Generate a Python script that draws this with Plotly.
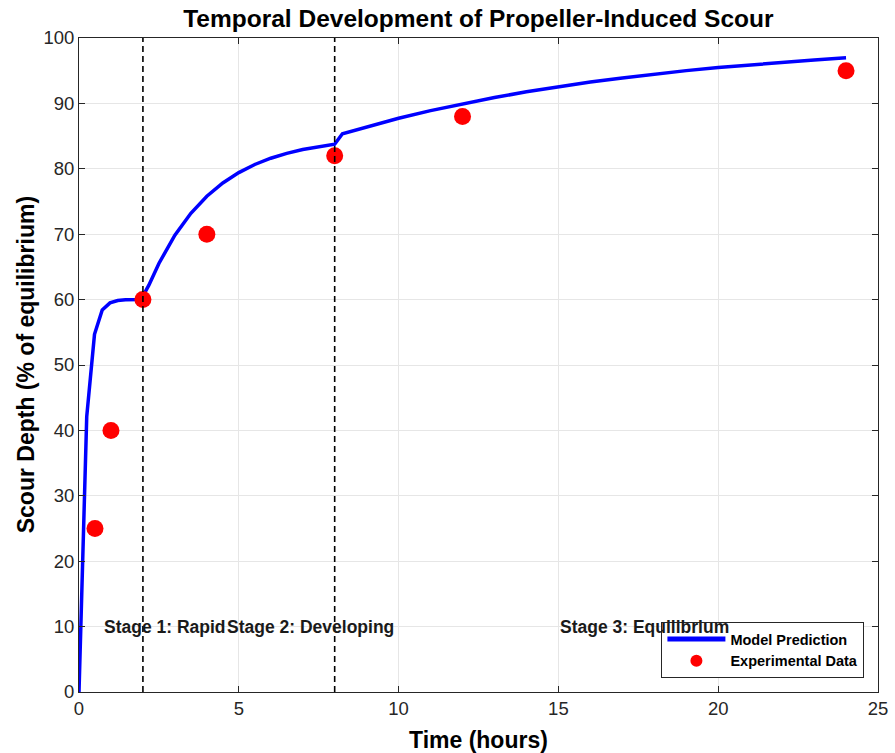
import plotly.graph_objects as go

# Model prediction curve
model_t = [0, 0.242, 0.485, 0.727, 0.970, 1.212, 1.455, 1.697, 1.939,
           2.182, 2.5, 3.0, 3.5, 4.0, 4.5, 5.0, 5.5, 6.0, 6.5, 7.0, 7.5, 7.758, 8.0,
           8.242, 9, 10, 11, 12, 13, 14, 15, 16, 17, 18, 19, 20, 21, 22, 23, 24]
model_y = [0, 42.1, 54.7, 58.4, 59.5, 59.86, 59.96, 59.99, 60.0,
           62.17, 65.53, 69.84, 73.19, 75.80, 77.84, 79.42, 80.66, 81.62, 82.36, 82.95, 83.40, 83.59, 83.76,
           85.36, 86.43, 87.72, 88.89, 89.95, 90.90, 91.77, 92.55, 93.26, 93.90, 94.48, 95.01, 95.48,
           95.91, 96.30, 96.65, 96.97]

# Experimental data
exp_t = [0.5, 1, 2, 4, 8, 12, 24]
exp_y = [25, 40, 60, 70, 82, 88, 95]

# Stage boundaries and labels
stage_bounds = [2, 8]
stage_labels = ["Stage 1: Rapid", "Stage 2: Developing", "Stage 3: Equilibrium"]
stage_label_x = [0.72, 4.57, 15.0]
stage_label_y = 10

x_ticks = [0, 5, 10, 15, 20, 25]
y_ticks = [0, 10, 20, 30, 40, 50, 60, 70, 80, 90, 100]

FONT = "Liberation Sans, Arial"

fig = go.Figure()
fig.add_trace(go.Scatter(x=model_t, y=model_y, mode="lines", name="Model Prediction",
                         line=dict(color="#0000ff", width=3.5)))
fig.add_trace(go.Scatter(x=exp_t, y=exp_y, mode="markers", name="Experimental Data",
                         marker=dict(color="#ff0000", size=17, line=dict(width=0))))
for b in stage_bounds:
    fig.add_trace(go.Scatter(x=[b, b], y=[0, 100], mode="lines", showlegend=False,
                             hoverinfo="skip",
                             line=dict(color="black", width=1.6, dash="6px,4px")))

for lab, lx in zip(stage_labels, stage_label_x):
    fig.add_annotation(x=lx, y=stage_label_y, text=lab, showarrow=False,
                       xanchor="left", yanchor="middle",
                       font=dict(family=FONT, size=17.5, color="#1a1a1a", weight="bold"))

# Axis titles as annotations for precise placement
fig.add_annotation(xref="paper", yref="paper", x=0.5, y=-0.073, text="Time (hours)",
                   showarrow=False, xanchor="center", yanchor="middle",
                   font=dict(family=FONT, size=23, color="black", weight="bold"))
fig.add_annotation(xref="paper", yref="paper", x=-0.066, y=0.5,
                   text="Scour Depth (% of equilibrium)", textangle=-90,
                   showarrow=False, xanchor="center", yanchor="middle",
                   font=dict(family=FONT, size=23, color="black", weight="bold"))

axis_common = dict(showline=True, linecolor="#262626", linewidth=1, mirror="ticks",
                   ticks="inside", ticklen=6, tickcolor="#262626", automargin=False,
                   showgrid=True, gridcolor="#e6e6e6", gridwidth=1, zeroline=False,
                   tickfont=dict(family=FONT, size=18.5, color="#262626"))

fig.update_layout(
    width=895, height=753,
    margin=dict(l=79, r=17, t=38, b=61),
    paper_bgcolor="white", plot_bgcolor="white",
    title=dict(text="Temporal Development of Propeller-Induced Scour",
               x=0.5345, xanchor="center", y=0.976, yanchor="middle",
               font=dict(family=FONT, size=24.5, color="black", weight="bold")),
    xaxis=dict(range=[0, 25], tickvals=x_ticks, **axis_common),
    yaxis=dict(range=[0, 100], tickvals=y_ticks, **axis_common),
    legend=dict(x=0.983, y=0.0214, xanchor="right", yanchor="bottom",
                bgcolor="white", bordercolor="#262626", borderwidth=1,
                font=dict(family=FONT, size=14.5, color="black", weight="bold"),
                tracegroupgap=0, itemwidth=58, itemsizing="constant"),
    showlegend=True,
)

fig.write_html("out.html")
